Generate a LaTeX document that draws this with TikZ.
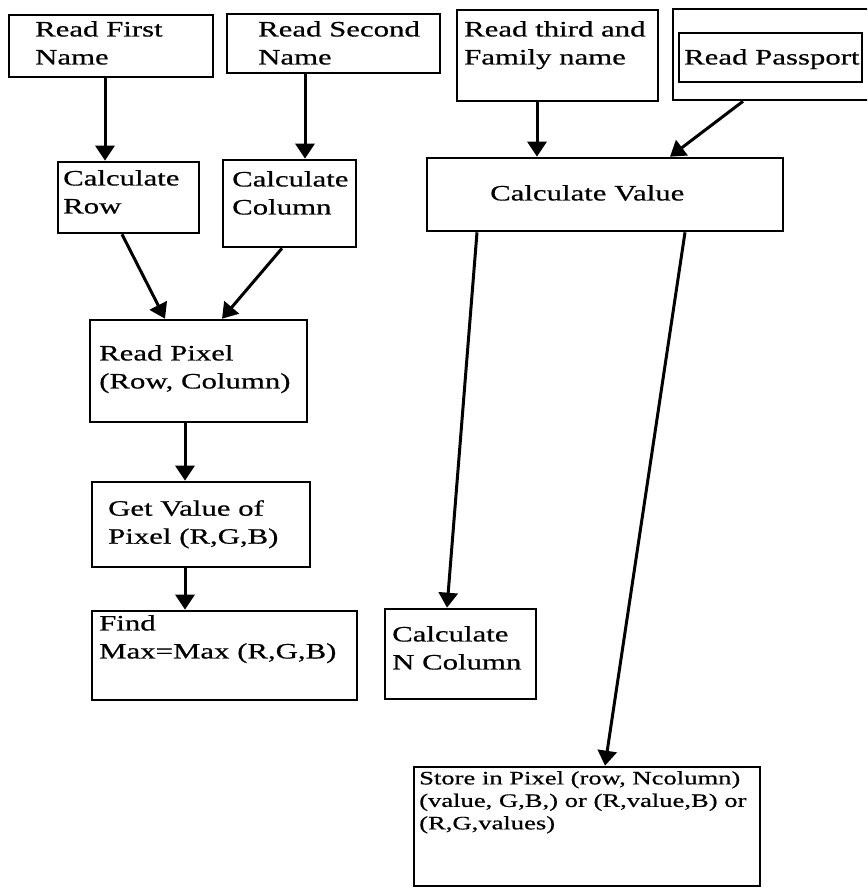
\documentclass[tikz,border=0pt]{standalone}
\usepackage{fontspec}
\setmainfont{Liberation Serif}[FakeStretch=1.4,FakeBold=0.6]
\usetikzlibrary{fit,arrows.meta}
\begin{document}
\begin{tikzpicture}[x=1pt,y=-1pt,
  box/.style={draw, line width=2.6pt, inner sep=0pt},
  txt/.style={anchor=north west, inner sep=0pt, align=left, font=\fontsize{22}{28}\selectfont},
  smalltxt/.style={anchor=north west, inner sep=0pt, align=left, font=\fontsize{19}{22.5}\selectfont},
  arr/.style={line width=3pt, -{Triangle[length=15pt,width=19pt]}}]
\clip (0,0) rectangle (867,888);
\fill[white] (0,0) rectangle (867,888);
% boxes
\node[box, fit={(9,15) (213,77)}] (A) {};
\node[box, fit={(227,14) (440,73)}] (B) {};
\node[box, fit={(457,10) (658,101)}] (C) {};
\node[box, fit={(673,9) (885,100)}] (D) {};
\node[box, fit={(679,33) (862,82)}] (E) {};
\node[box, fit={(58,162) (199,233)}] (F) {};
\node[box, fit={(223,160) (356,247)}] (G) {};
\node[box, fit={(427,158) (783,231)}] (H) {};
\node[box, fit={(90,320) (307,422)}] (I) {};
\node[box, fit={(92,482) (310,567)}] (J) {};
\node[box, fit={(92,611) (357,700)}] (K) {};
\node[box, fit={(385,609) (536,699)}] (L) {};
\node[box, fit={(414,767) (760,886)}] (M) {};
% texts
\node[txt] (tA) at (35,21) {Read First\\Name};
\node[txt] (tB) at (258,21) {Read Second\\Name};
\node[txt] (tC) at (464,21) {Read third and\\Family name};
\node[txt] (tE) at (684,49) {Read Passport};
\node[txt] (tF) at (63,170) {Calculate\\Row};
\node[txt] (tG) at (232,171) {Calculate\\Column};
\node[txt] (tH) at (490,185) {Calculate Value};
\node[txt] (tI) at (99,345) {Read Pixel\\(Row, Column)};
\node[txt] (tJ) at (108,500) {Get Value of\\Pixel (R,G,B)};
\node[txt] (tK) at (99,615) {Find\\Max=Max (R,G,B)};
\node[txt] (tL) at (392,626) {Calculate\\N Column};
\node[smalltxt] (tM) at (419,771) {Store in Pixel (row, Ncolumn)\\(value, G,B,) or (R,value,B) or\\(R,G,values)};
% x positions for connectors
\coordinate (x105) at (105,0);
\coordinate (x305) at (305,0);
\coordinate (x537) at (537,0);
\coordinate (x743) at (743,0);
\coordinate (x670) at (670,0);
\coordinate (x122) at (122,0);
\coordinate (x165) at (165,0);
\coordinate (x282) at (282,0);
\coordinate (x222) at (222,0);
\coordinate (x185) at (185,0);
\coordinate (x477) at (477,0);
\coordinate (x447) at (447,0);
\coordinate (x685) at (685,0);
\coordinate (x605) at (605,0);
% connectors
\draw[arr] (A.south -| x105) -- (F.north -| x105);
\draw[arr] (B.south -| x305) -- (G.north -| x305);
\draw[arr] (C.south -| x537) -- (H.north -| x537);
\draw[arr] (D.south -| x743) -- (H.north -| x670);
\draw[arr] (F.south -| x122) -- (I.north -| x165);
\draw[arr] (G.south -| x282) -- (I.north -| x222);
\draw[arr] (I.south -| x185) -- (J.north -| x185);
\draw[arr] (J.south -| x185) -- (K.north -| x185);
\draw[arr] (H.south -| x477) -- (L.north -| x447);
\draw[arr] (H.south -| x685) -- (M.north -| x605);
\end{tikzpicture}
\end{document}
